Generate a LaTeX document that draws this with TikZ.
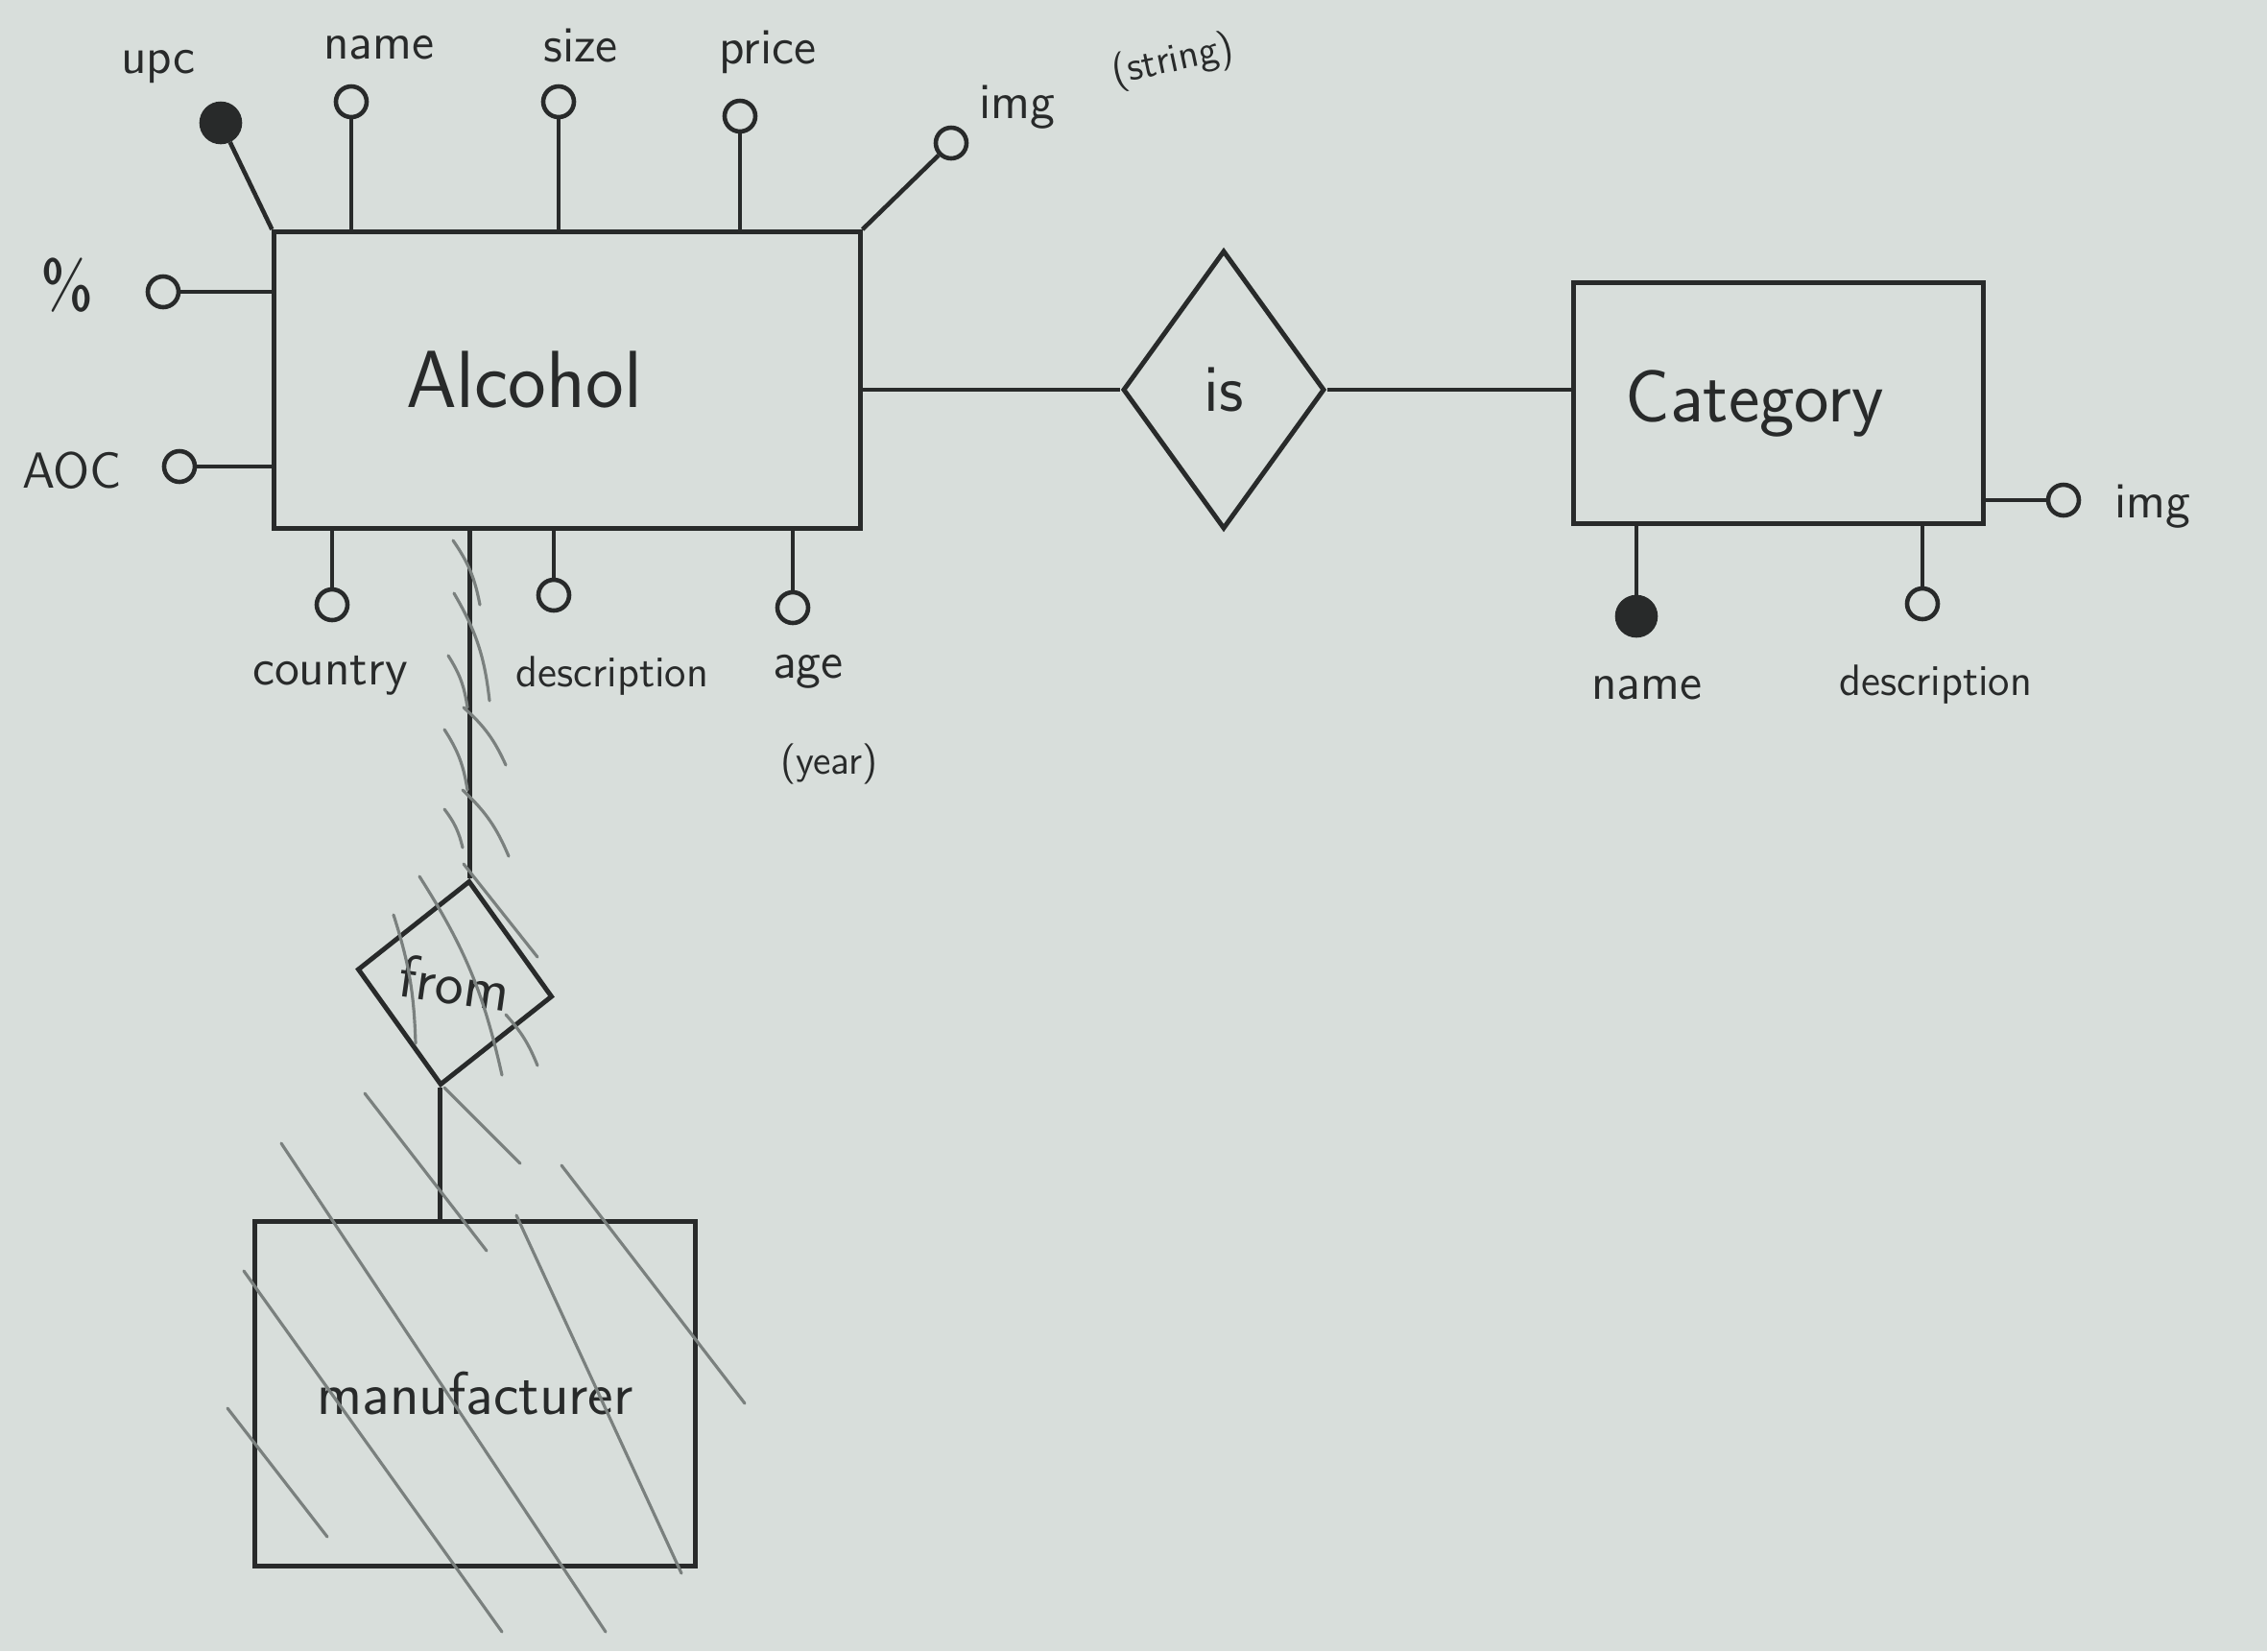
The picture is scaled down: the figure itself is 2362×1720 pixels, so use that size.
\documentclass[tikz,border=0pt]{standalone}
\usepackage{tikz}
\usetikzlibrary{positioning,shapes.geometric,calc}
\definecolor{ink}{RGB}{40,42,42}
\definecolor{pencil}{RGB}{122,128,126}
\definecolor{paper}{RGB}{216,222,219}
\newcommand{\hand}[1]{\fontsize{#1}{#1}\selectfont\sffamily}

\begin{document}
\begin{tikzpicture}[
  x=0.01cm, y=-0.01cm,
  every node/.style={text=ink},
  entity/.style={draw=ink, line width=1.4pt, rectangle, inner sep=0pt,
                 font=\hand{24}},
  relation/.style={draw=ink, line width=1.4pt, diamond, inner sep=0pt,
                   font=\hand{20}},
  attr/.style={draw=ink, line width=1.3pt, circle, minimum size=0.32cm,
               inner sep=0pt},
  keyattr/.style={attr, fill=ink, minimum size=0.4cm},
  attrname/.style={font=\hand{15}, inner sep=1pt},
  note/.style={font=\hand{12}, inner sep=1pt},
  link/.style={draw=ink, line width=1.3pt},
  hatch/.style={draw=pencil, line width=0.9pt, line cap=round}
]

  % --- Paper ---
  \fill[paper] (0,0) rectangle (2362,1720);
  \useasboundingbox (0,0) rectangle (2362,1720);

  % --- Entities ---
  \node[entity, minimum width=6.1cm, minimum height=3.09cm] (alcohol) at (591,396) {Alcohol\kern0.9cm};
  \node[entity, minimum width=4.26cm, minimum height=2.5cm, font=\hand{22}] (category) at (1853,420) {Category\kern0.5cm};
  \node[entity, minimum width=4.59cm, minimum height=3.58cm, font=\hand{18}] (manuf) at (495,1452) {manufacturer};

  % --- Relations ---
  \node[relation, minimum width=2.1cm, minimum height=2.9cm] (is) at (1275,406) {is};
  \node[relation, rotate=-8, minimum width=2.05cm, minimum height=2.15cm,
        font=\hand{18}] (from) at (474,1024) {from};

  % --- Alcohol attributes ---
  \node[keyattr] (upc) at (230,128) {};
  \node[attr] (nameA) at (366,106) {};
  \node[attr] (size) at (582,106) {};
  \node[attr] (price) at (771,121) {};
  \node[attr] (imgA) at (991,149) {};
  \node[attr] (pct) at (170,304) {};
  \node[attr] (aoc) at (187,486) {};
  \node[attr] (country) at (346,630) {};
  \node[attr] (descA) at (577,620) {};
  \node[attr] (age) at (826,633) {};

  \node[attrname] (t-upc) at (165,70) {upc};
  \node[attrname] (t-nameA) at (395,50) {name};
  \node[attrname] (t-size) at (605,48) {size};
  \node[attrname] (t-price) at (800,54) {price};
  \node[attrname] (t-imgA) at (1060,112) {img};
  \node[note, rotate=12] (t-string) at (1222,64) {(string)};
  \node[attrname, font=\hand{20}] (t-pct) at (70,297) {\%};
  \node[attrname] (t-aoc) at (75,490) {AOC};
  \node[attrname] (t-country) at (344,704) {country};
  \node[attrname, font=\hand{13}] (t-descA) at (638,704) {description};
  \node[attrname] (t-age) at (842,700) {age};
  \node[note] (t-year) at (864,796) {(year)};

  % --- Category attributes ---
  \node[keyattr] (nameC) at (1705,642) {};
  \node[attr] (descC) at (2003,629) {};
  \node[attr] (imgC) at (2150,521) {};

  \node[attrname] (t-nameC) at (1716,717) {name};
  \node[attrname, font=\hand{13}] (t-descC) at (2017,713) {description};
  \node[attrname] (t-imgC) at (2243,528) {img};

  % --- Attribute links ---
  \draw[link] (upc) -- (alcohol.north west);
  \draw[link] (nameA) -- (nameA |- alcohol.north);
  \draw[link] (size) -- (size |- alcohol.north);
  \draw[link] (price) -- (price |- alcohol.north);
  \draw[link] (imgA) -- (alcohol.north east);
  \draw[link] (pct) -- (pct -| alcohol.west);
  \draw[link] (aoc) -- (aoc -| alcohol.west);
  \draw[link] (country) -- (country |- alcohol.south);
  \draw[link] (descA) -- (descA |- alcohol.south);
  \draw[link] (age) -- (age |- alcohol.south);
  \draw[link] (nameC) -- (nameC |- category.south);
  \draw[link] (descC) -- (descC |- category.south);
  \draw[link] (imgC) -- (imgC -| category.east);

  % --- Relation links ---
  \draw[link] (alcohol.east |- is.west) -- (is.west);
  \draw[link] (is.east) -- (is.east -| category.west);
  \draw[link] (from.north |- alcohol.south) -- (from.north);
  \draw[link] (from.south) -- (from.south |- manuf.north);

  % --- Pencil strokes over the from link ---
  \draw[hatch] (472,563) to[bend left=12] (500,630);
  \draw[hatch] (473,618) to[bend left=12] (510,730);
  \draw[hatch] (467,683) to[bend left=12] (487,737);
  \draw[hatch] (483,737) to[bend left=12] (527,797);
  \draw[hatch] (463,760) to[bend left=12] (487,823);
  \draw[hatch] (482,823) to[bend left=12] (530,892);
  \draw[hatch] (463,843) to[bend left=12] (482,883);
  \draw[hatch] (437,913) to[bend left=10] (523,1120);
  \draw[hatch] (410,953) to[bend left=8] (433,1087);
  \draw[hatch] (483,900) -- (560,997);
  \draw[hatch] (527,1057) to[bend left=10] (560,1110);

  % --- Pencil hatching over manufacturer ---
  \draw[hatch] (380,1139) -- (507,1303);
  \draw[hatch] (463,1133) -- (542,1212);
  \draw[hatch] (293,1191) -- (631,1700);
  \draw[hatch] (585,1214) -- (776,1462);
  \draw[hatch] (538,1266) -- (710,1639);
  \draw[hatch] (254,1324) -- (523,1700);
  \draw[hatch] (237,1467) -- (341,1601);

\end{tikzpicture}
\end{document}
